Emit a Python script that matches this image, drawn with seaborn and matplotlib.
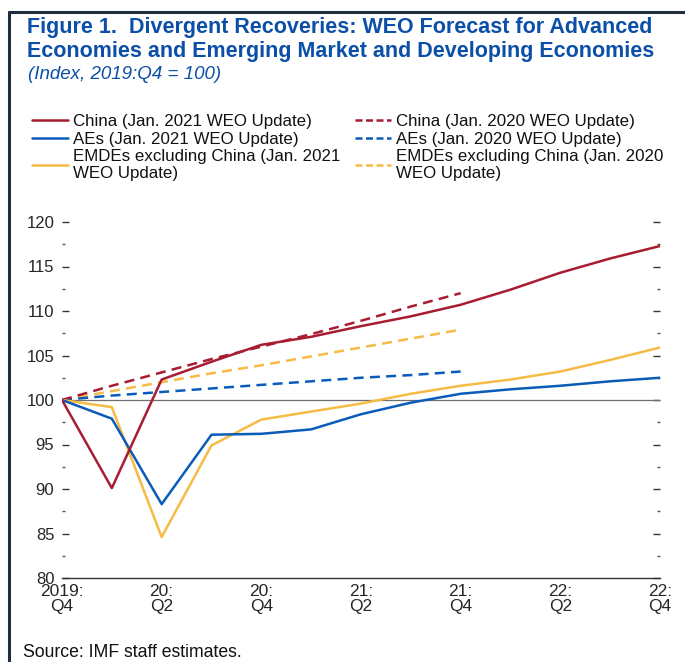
import numpy as np
import pandas as pd
import matplotlib
matplotlib.use("Agg")
import matplotlib.pyplot as plt
import seaborn as sns
from matplotlib.lines import Line2D

# Données (indice 2019:Q4 = 100)
quarters = ["2019Q4", "2020Q1", "2020Q2", "2020Q3", "2020Q4",
            "2021Q1", "2021Q2", "2021Q3", "2021Q4",
            "2022Q1", "2022Q2", "2022Q3", "2022Q4"]
tick_labels = ["2019:\nQ4", "20:\nQ2", "20:\nQ4", "21:\nQ2", "21:\nQ4", "22:\nQ2", "22:\nQ4"]

china_2021 = [100, 90.1, 102.3, 104.3, 106.2, 107.1, 108.3, 109.4, 110.7, 112.4, 114.3, 115.9, 117.3]
aes_2021 = [100, 97.9, 88.3, 96.1, 96.2, 96.7, 98.4, 99.7, 100.7, 101.2, 101.6, 102.1, 102.5]
emdes_2021 = [100, 99.2, 84.6, 94.9, 97.8, 98.7, 99.6, 100.7, 101.6, 102.3, 103.2, 104.5, 105.9]

china_2020 = [100, 101.6, 103.1, 104.6, 106.0, 107.4, 108.9, 110.5, 112.0]
aes_2020 = [100, 100.5, 100.9, 101.3, 101.7, 102.1, 102.5, 102.8, 103.2]
emdes_2020 = [100, 101.0, 102.0, 103.0, 103.9, 104.9, 105.9, 106.9, 107.9]

rouge = "#a81c32"
bleu = "#0b5bb9"
jaune = "#f6bb45"
bleu_titre = "#0b4fa8"
tirets = (0, (4, 2.5))

sns.set_style("white")
plt.rcParams['font.family'] = ['Liberation Sans', 'DejaVu Sans']
plt.rcParams['text.color'] = "#111111"

fig = plt.figure(figsize=(6.85, 6.62), dpi=100)
ax = fig.add_axes([62/685, 1 - 578/662, (660 - 62)/685, (578 - 222)/662])

x_full = np.arange(len(quarters))
x_prev = np.arange(len(china_2020))

# Ligne de référence à 100 et séries
ax.axhline(100, color="#6e6e6e", lw=0.9, zorder=1)
sns.lineplot(x=x_prev, y=emdes_2020, color=jaune, lw=1.8, ax=ax, linestyle=tirets)
sns.lineplot(x=x_prev, y=aes_2020, color=bleu, lw=1.8, ax=ax, linestyle=tirets)
sns.lineplot(x=x_prev, y=china_2020, color=rouge, lw=1.8, ax=ax, linestyle=tirets)
sns.lineplot(x=x_full, y=emdes_2021, color=jaune, lw=1.8, ax=ax)
sns.lineplot(x=x_full, y=aes_2021, color=bleu, lw=1.8, ax=ax)
sns.lineplot(x=x_full, y=china_2021, color=rouge, lw=1.8, ax=ax)

# Axes
ax.set_xlim(0, 12)
ax.set_ylim(80, 120)
ax.set_xticks(np.arange(0, 13, 2))
ax.set_xticklabels(tick_labels, fontsize=12.5, linespacing=1.05)
ax.set_xticks(np.arange(0, 13, 1), minor=True)
ax.set_yticks(np.arange(80, 121, 5))
ax.set_yticklabels([str(v) for v in range(80, 121, 5)], fontsize=12)
ax.set_yticks(np.arange(82.5, 120, 5), minor=True)
for s in ["top", "left", "right"]:
    ax.spines[s].set_visible(False)
ax.spines["bottom"].set_color("#333333")
ax.spines["bottom"].set_linewidth(1.0)
ax.tick_params(axis="x", which="both", direction="in", length=5, width=1, color="#333333", pad=4)
ax.tick_params(axis="y", which="major", direction="in", length=5, width=1, color="#333333",
               left=True, right=True, pad=5.5)
ax.tick_params(axis="y", which="minor", direction="in", length=2.5, width=1, color="#555555",
               left=True, right=True)
ax.set_xlabel("")
ax.set_ylabel("")

# Légende
handles = [
    Line2D([], [], color=rouge, lw=1.8),
    Line2D([], [], color=bleu, lw=1.8),
    Line2D([], [], color=jaune, lw=1.8),
    Line2D([], [], color=rouge, lw=1.8, linestyle=(0, (2.8, 1.4))),
    Line2D([], [], color=bleu, lw=1.8, linestyle=(0, (2.8, 1.4))),
    Line2D([], [], color=jaune, lw=1.8, linestyle=(0, (2.8, 1.4))),
]
labels = [
    "China (Jan. 2021 WEO Update)",
    "AEs (Jan. 2021 WEO Update)",
    "EMDEs excluding China (Jan. 2021\nWEO Update)",
    "China (Jan. 2020 WEO Update)",
    "AEs (Jan. 2020 WEO Update)",
    "EMDEs excluding China (Jan. 2020\nWEO Update)",
]
leg = fig.legend(handles, labels, ncol=2, loc="upper left", bbox_to_anchor=(32/685, 1 - 114/662),
                 frameon=False, fontsize=12.2, handlelength=2.1, handletextpad=0.3,
                 columnspacing=0.9, labelspacing=0.15, borderaxespad=0, borderpad=0)
for t in leg.get_texts():
    t.set_linespacing(1.15)

# Titre et source
fig.text(27/685, 1 - 17/662, "Figure 1.  Divergent Recoveries: WEO Forecast for Advanced\n"
         "Economies and Emerging Market and Developing Economies",
         color=bleu_titre, fontsize=15.5, fontweight="bold", va="top", ha="left",
         linespacing=1.2)
fig.text(28/685, 1 - 66/662, "(Index, 2019:Q4 = 100)", color=bleu_titre, fontsize=13.5,
         fontstyle="italic", va="top", ha="left")
fig.text(23/685, 1 - 644/662, "Source: IMF staff estimates.", fontsize=12.7, va="top", ha="left")

# Cadre (haut et gauche)
fig.add_artist(Line2D([9/685, 9/685], [0, 1 - 11.5/662], color="#1f2d3d", lw=2.2))
fig.add_artist(Line2D([9/685, 1], [1 - 11.5/662, 1 - 11.5/662], color="#1f2d3d", lw=2.2))

fig.savefig("out.png", dpi=100)
